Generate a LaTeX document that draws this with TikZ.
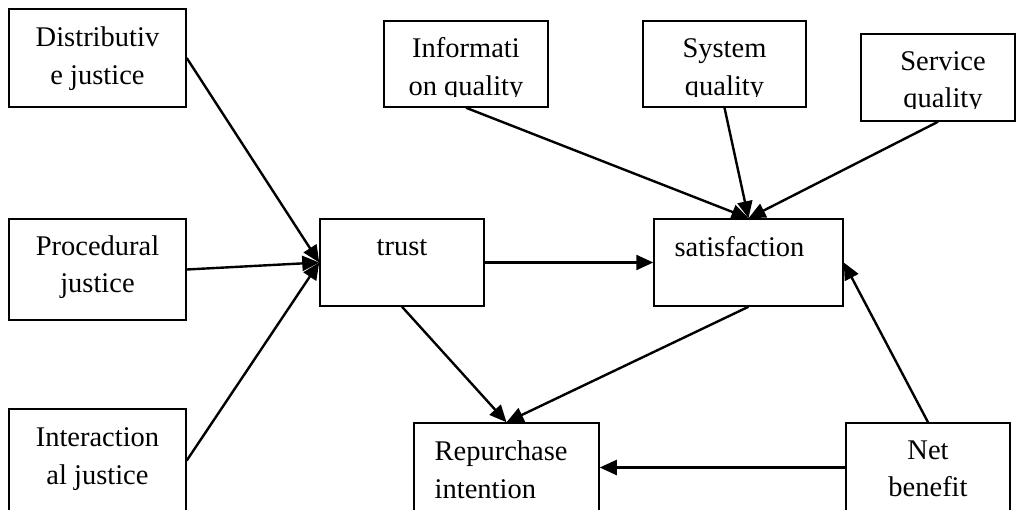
\documentclass[tikz,border=0pt]{standalone}
\usepackage{fontspec}
\setmainfont{Liberation Serif}
\usetikzlibrary{arrows.meta,calc}
\begin{document}
\begin{tikzpicture}[x=0.5pt,y=-0.5pt,
  box/.style={draw, line width=0.75pt, fill=white, inner sep=0pt},
  lbl/.style={inner sep=0pt, anchor=base, align=center,
    font=\fontsize{14.25}{18.75}\selectfont},
  lbll/.style={lbl, anchor=base west, align=left},
  conn/.style={line width=1.2pt, -{Triangle[length=8.5pt,width=7.5pt]}}]
\useasboundingbox (0,0) rectangle (1017,509);
\clip (0,0) rectangle (1017,509);

% boxes
\node[box, minimum width=88.5pt, minimum height=49pt]   (dist)  at (97.5,58)    {};
\node[box, minimum width=82pt,   minimum height=43pt]   (info)  at (466,64)     {};
\node[box, minimum width=81.5pt, minimum height=43pt]   (sys)   at (724.5,64)   {};
\node[box, minimum width=77pt,   minimum height=43.5pt] (serv)  at (938,77.5)   {};
\node[box, minimum width=88.5pt, minimum height=50.5pt] (proc)  at (97.5,269.5) {};
\node[box, minimum width=82pt,   minimum height=43.5pt] (trust) at (402,262.5)  {};
\node[box, minimum width=94.5pt, minimum height=43.5pt] (sat)   at (748.5,262.5){};
\node[box, minimum width=88.5pt, minimum height=51.5pt] (inter) at (97.5,460.5) {};
\node[box, minimum width=92.5pt, minimum height=44.5pt] (rep)   at (506.5,467.5){};
\node[box, minimum width=82pt,   minimum height=44.5pt] (net)   at (928,467.5)  {};

% labels (two-line labels are placed by the baseline of their last line)
\node[lbl] (distT)  at ($(dist.north)+(0,76)$)  {Distributiv\\e justice};
\node[lbl] (procT)  at ($(proc.north)+(0,74.5)$) {Procedural\\justice};
\node[lbl] (interT) at ($(inter.north)+(0,76)$) {Interaction\\al justice};
\node[lbl] (trustT) at ($(trust.north)+(0,37)$) {trust};
\node[lbll] (satT)  at ($(sat.north west)+(21,38)$) {satisfaction};
\node[lbll] (repT)  at ($(rep.north west)+(21,76)$) {Repurchase\\intention};
\node[lbl] (netT)   at ($(net.north)+(0,74.5)$) {Net\\benefit};
\begin{scope}
  \clip (info.north west) rectangle ($(info.north east)+(0,76)$);
  \node[lbl] (infoT) at ($(info.north)+(0,75)$) {Informati\\on quality};
\end{scope}
\begin{scope}
  \clip (sys.north west) rectangle ($(sys.north east)+(0,76)$);
  \node[lbl] (sysT) at ($(sys.north)+(0,75)$) {System\\quality};
\end{scope}
\begin{scope}
  \clip (serv.north west) rectangle ($(serv.north east)+(0,75)$);
  \node[lbl] (servT) at ($(serv.north)+(5,74.5)$) {Service\\quality};
\end{scope}

% connectors
\draw[conn] (dist.east)   -- (trust.west);
\draw[conn] (proc.east)   -- (trust.west);
\draw[conn] (inter.east)  -- (trust.west);
\draw[conn] (info.south)  -- (sat.north);
\draw[conn] (sys.south)   -- (sat.north);
\draw[conn] (serv.south)  -- (sat.north);
\draw[conn] (trust.east)  -- (sat.west);
\draw[conn] (trust.south) -- (rep.north);
\draw[conn] (sat.south)   -- (rep.north);
\draw[conn] (net.north)   -- (sat.east);
\draw[conn] (net.west)    -- (rep.east);
\end{tikzpicture}
\end{document}
